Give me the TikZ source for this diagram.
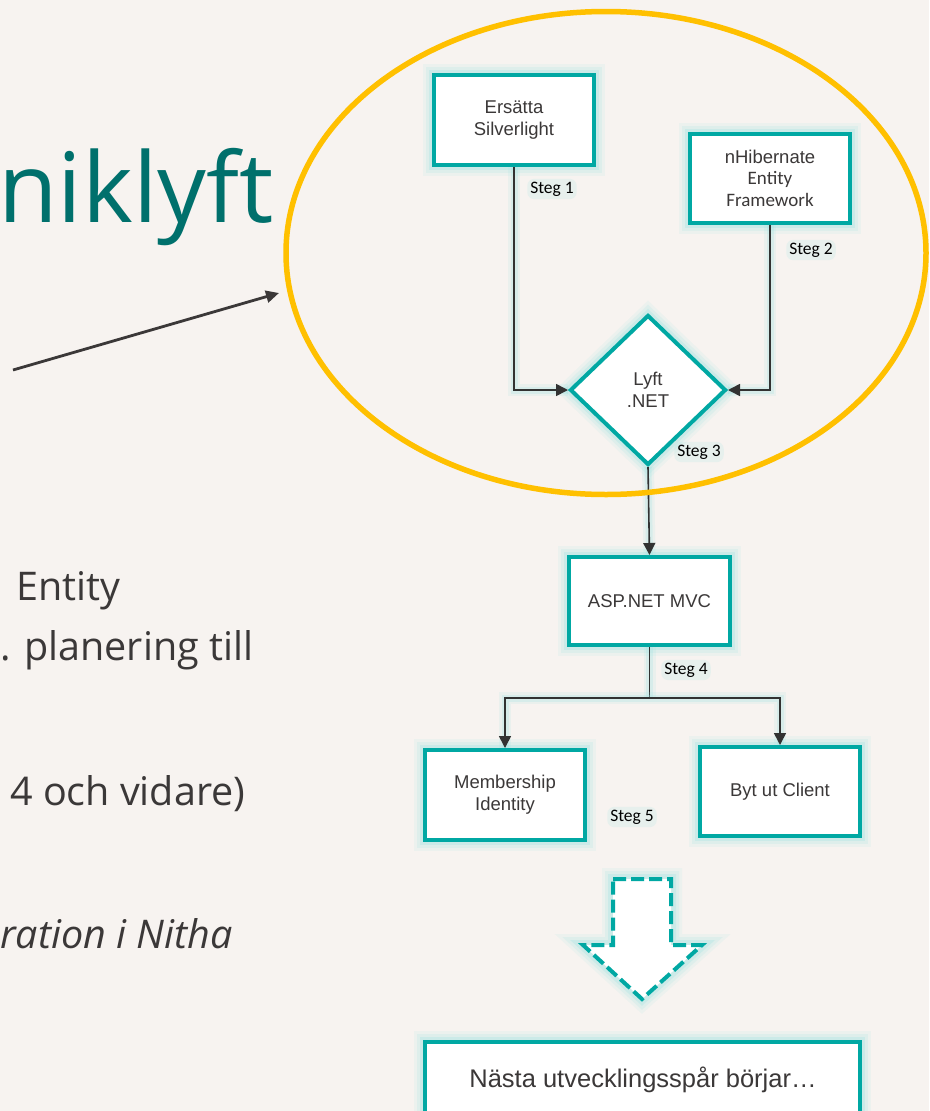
\documentclass[tikz,border=0pt]{standalone}
\usepackage{fontspec}
\setmainfont{Open Sans}
\newfontfamily\arialf{Liberation Sans}
\newfontfamily\calf{Carlito}
\usetikzlibrary{shapes.geometric,arrows.meta}
\definecolor{bgc}{RGB}{247,243,240}
\definecolor{titlec}{RGB}{0,112,108}
\definecolor{bodyc}{RGB}{59,56,56}
\definecolor{tealc}{RGB}{0,168,163}
\definecolor{glowc}{RGB}{160,228,226}
\definecolor{ringc}{RGB}{255,192,0}
\definecolor{linec}{RGB}{50,50,50}
\begin{document}
\begin{tikzpicture}[x=1pt,y=-1pt,
  glow/.style={preaction={draw=glowc,solid,line width=22,draw opacity=0.12},
               preaction={draw=glowc,solid,line width=16,draw opacity=0.18},
               preaction={draw=glowc,solid,line width=10,draw opacity=0.3}},
  box/.style={draw=tealc,line width=4,fill=white,glow,inner sep=0,align=center,
              font=\arialf\fontsize{18.5}{22}\selectfont,text=bodyc},
  dia/.style={box,shape=diamond,minimum width=156,minimum height=150},
  conn/.style={draw=linec,line width=1.6,-{Triangle[length=12,width=12]},
               preaction={-,draw=glowc,line width=12,draw opacity=0.15},
               preaction={-,draw=glowc,line width=7,draw opacity=0.25}},
  steglbl/.style={font=\calf\fontsize{17.5}{20}\selectfont,text=black,inner sep=3,
               fill=glowc,fill opacity=0.18,text opacity=1,rounded corners=7},
  body/.style={font=\fontsize{39.5}{50}\selectfont,text=bodyc,inner sep=0,anchor=base west}]
\useasboundingbox (0,0) rectangle (929,1111);
\fill[bgc] (0,0) rectangle (929,1111);
\clip (0,0) rectangle (929,1111);

% left slide text (cut off at the left edge)
\node[font=\fontsize{97}{110}\selectfont,text=titlec,inner sep=0,anchor=base west] (title) at (-2,222) {niklyft};
\node[body] (t1) at (16,600) {Entity};
\node[body] (t2) at (0,660) {. planering till};
\node[body] (t3) at (10,805) {4 och vidare)};
\node[body,font=\itshape\fontsize{39.5}{50}\selectfont] (t4) at (0,948) {ration i Nitha};

% boxes
\node[box,minimum width=160,minimum height=90] (ers) at (514,120) {Ersätta\\Silverlight};
\node[box,minimum width=160,minimum height=89] (nhib) at (770,178.5)
  {nHibernate\\[-1pt]{\calf\fontsize{19}{22}\selectfont Entity}\\{\calf\fontsize{19}{22}\selectfont Framework}};
\node[dia] (dia) at (648,390) {Lyft\\.NET};
\node[box,minimum width=161,minimum height=88] (asp) at (649.5,601) {ASP.NET MVC};
\node[box,minimum width=160,minimum height=90] (mem) at (505,795) {Membership\\Identity};
\node[box,minimum width=160,minimum height=89] (byt) at (780,791.5) {Byt ut Client};
\node[box,minimum width=435,minimum height=100] (next) at (642.5,1092) {};
\node[font=\arialf\fontsize{25.5}{30}\selectfont,text=bodyc,inner sep=0] (nexttxt) at (643,1080) {Nästa utvecklingsspår börjar…};

% connectors
\draw[conn] (ers.south) |- (dia.west);
\draw[conn] (nhib.south) |- (dia.east);
\draw[conn] (dia.south) -- (asp.north);
\coordinate (split) at (649.5,698);
\draw[draw=linec,line width=1.6,preaction={draw=glowc,line width=12,draw opacity=0.15},
  preaction={draw=glowc,line width=7,draw opacity=0.25}] (asp.south) -- (split);
\draw[conn] (split) -| (mem.north);
\draw[conn] (split) -| (byt.north);

% step labels
\node[steglbl] (s1) at (552,189) {Steg 1};
\node[steglbl] (s2) at (811,250) {Steg 2};
\node[steglbl] (s3) at (699,452) {Steg 3};
\node[steglbl] (s4) at (686,670) {Steg 4};
\node[steglbl] (s5) at (632,817) {Steg 5};

% dashed block arrow
\draw[draw=tealc,line width=4,dash pattern=on 13 off 5,fill=white,glow,line join=miter]
  (613,879) -- (671,879) -- (671,945) -- (702,945) -- (642,999) -- (583,945) -- (613,945) -- cycle;

% highlight ring and pointer arrow
\node[draw=ringc,line width=5.5,shape=ellipse,inner sep=0,minimum width=640,minimum height=483] (ring) at (606,253) {};
\coordinate (tail) at (13,370);
\coordinate (tip) at (279,293);
\draw[draw=bodyc,line width=2.8,-{Triangle[length=13,width=12]}] (tail) -- (tip);
\end{tikzpicture}
\end{document}
